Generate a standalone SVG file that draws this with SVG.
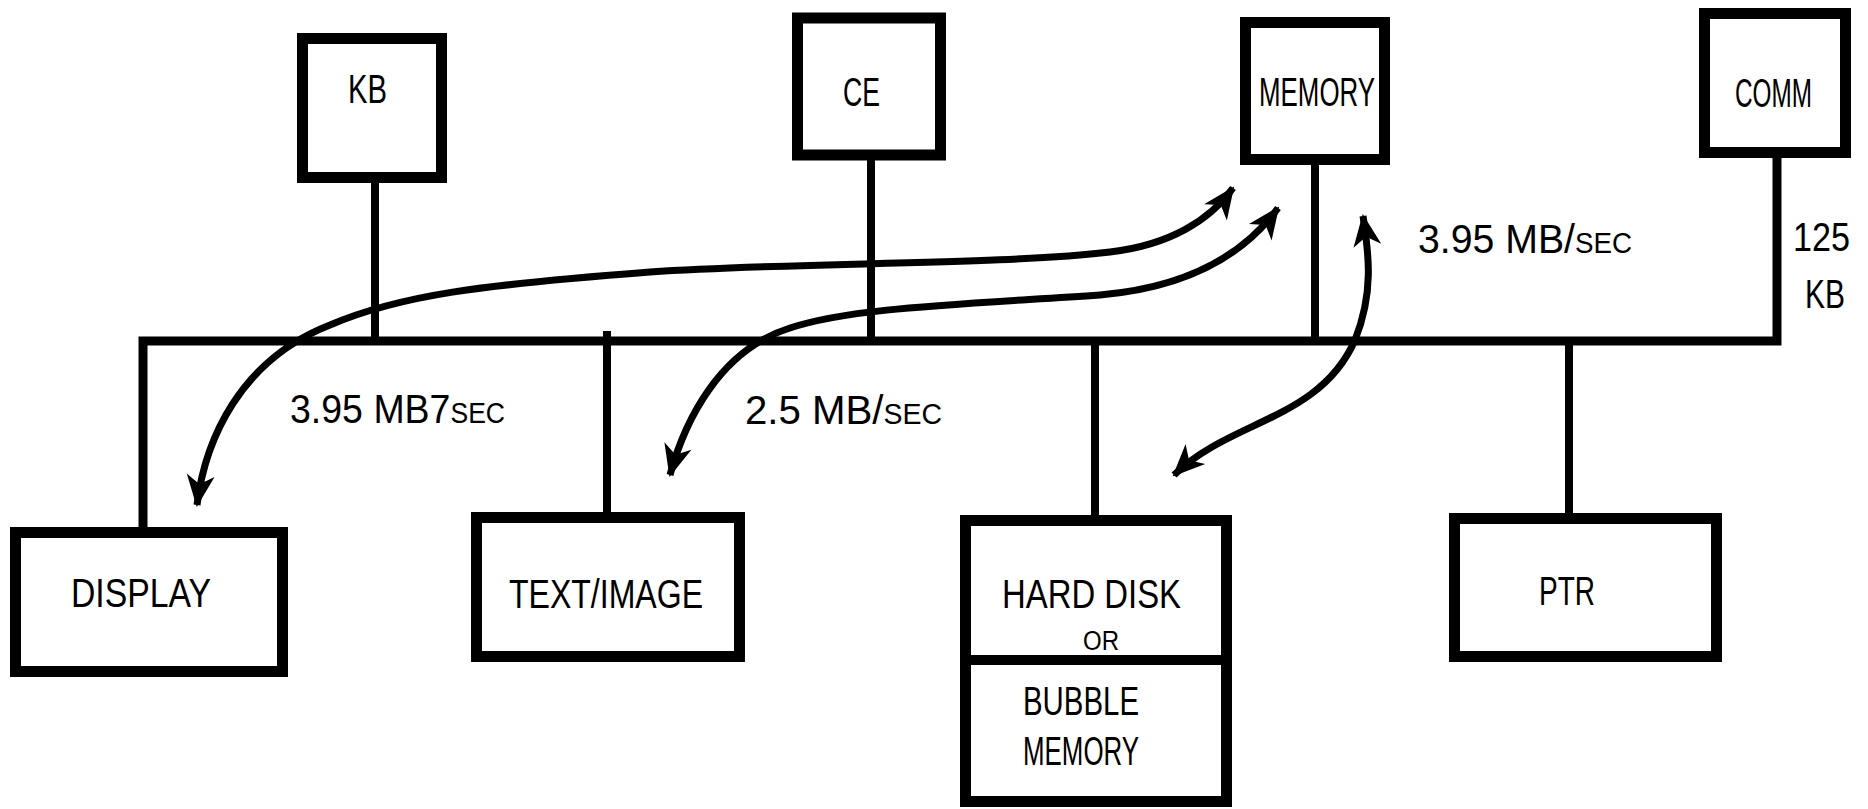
<svg xmlns="http://www.w3.org/2000/svg" width="1868" height="809" viewBox="0 0 1868 809">
<style>
.box{fill:#fff;stroke:#000;stroke-width:11}
.ln{fill:none;stroke:#000;stroke-width:8;stroke-linecap:square}
.bus{fill:none;stroke:#000;stroke-width:9;stroke-linejoin:miter}
.arr{fill:none;stroke:#000;stroke-width:7;stroke-linecap:butt;marker-start:url(#ah);marker-end:url(#ah)}
text{font-family:"Liberation Sans",Arial,sans-serif;font-size:41px;fill:#000}
.rate{font-variant:small-caps}
.sm{font-size:27px}
</style>
<defs>
<marker id="ah" viewBox="-32 -16 34 32" markerWidth="34" markerHeight="32" refX="0" refY="0" orient="auto-start-reverse" markerUnits="userSpaceOnUse">
<path d="M2,0 L-30,-14 L-21,0 L-30,14 Z" fill="#000"/>
</marker>
</defs>
<g id="connectors">
<path class="bus" d="M143,532 V341 H1777 V158"/>
<path class="ln" d="M375,183 V341"/>
<path class="ln" d="M871,160 V341"/>
<path class="ln" d="M1315,165 V341"/>
<path class="ln" d="M607,335 V512"/>
<path class="ln" d="M1095,341 V515"/>
<path class="ln" d="M1569,341 V513"/>
<path class="arr" d="M197,505 C205,440 240,360 330,325 C400,295 480,285 650,272 C800,262 1000,265 1110,252 C1170,245 1210,220 1233,188"/>
<path class="arr" d="M670,475 C685,420 720,350 790,328 C850,308 950,305 1100,295 C1180,288 1240,260 1278,208"/>
<path class="arr" d="M1174,475 C1230,420 1320,420 1355,340 C1375,290 1368,250 1363,216"/>
</g>
<g id="kb"><rect class="box" x="302.5" y="38.5" width="139" height="139"/><text x="348" y="103" textLength="39" lengthAdjust="spacingAndGlyphs">KB</text></g>
<g id="ce"><rect class="box" x="797.5" y="18" width="143" height="137"/><text x="843" y="106" textLength="37" lengthAdjust="spacingAndGlyphs">CE</text></g>
<g id="memory"><rect class="box" x="1245.5" y="22.5" width="139" height="137"/><text x="1259" y="106" textLength="116" lengthAdjust="spacingAndGlyphs">MEMORY</text></g>
<g id="comm"><rect class="box" x="1704.5" y="13.5" width="141" height="139"/><text x="1735" y="107" textLength="77" lengthAdjust="spacingAndGlyphs">COMM</text></g>
<g id="display"><rect class="box" x="15.5" y="532.5" width="267" height="139"/><text x="71" y="607" textLength="140" lengthAdjust="spacingAndGlyphs">DISPLAY</text></g>
<g id="textimage"><rect class="box" x="476.5" y="517.5" width="263" height="139"/><text x="509" y="608" textLength="194" lengthAdjust="spacingAndGlyphs">TEXT/IMAGE</text></g>
<g id="harddisk"><rect class="box" x="965.5" y="520.5" width="261" height="281"/><line x1="960" y1="660" x2="1232" y2="660" stroke="#000" stroke-width="10"/><text x="1002" y="608" textLength="179" lengthAdjust="spacingAndGlyphs">HARD DISK</text><text class="sm" x="1083" y="650" textLength="36" lengthAdjust="spacingAndGlyphs">OR</text><text x="1023" y="715" textLength="116" lengthAdjust="spacingAndGlyphs">BUBBLE</text><text x="1023" y="765" textLength="116" lengthAdjust="spacingAndGlyphs">MEMORY</text></g>
<g id="ptr"><rect class="box" x="1454.5" y="518.5" width="262" height="138"/><text x="1539" y="605" textLength="56" lengthAdjust="spacingAndGlyphs">PTR</text></g>
<g id="labels">
<text class="rate" x="1418" y="253" textLength="214" lengthAdjust="spacingAndGlyphs">3.95 MB/sec</text>
<text x="1793" y="251" textLength="57" lengthAdjust="spacingAndGlyphs">125</text>
<text x="1805" y="308" textLength="40" lengthAdjust="spacingAndGlyphs">KB</text>
<text class="rate" x="290" y="423" textLength="215" lengthAdjust="spacingAndGlyphs">3.95 MB7sec</text>
<text class="rate" x="745" y="424" textLength="197" lengthAdjust="spacingAndGlyphs">2.5 MB/sec</text>
</g>
</svg>
